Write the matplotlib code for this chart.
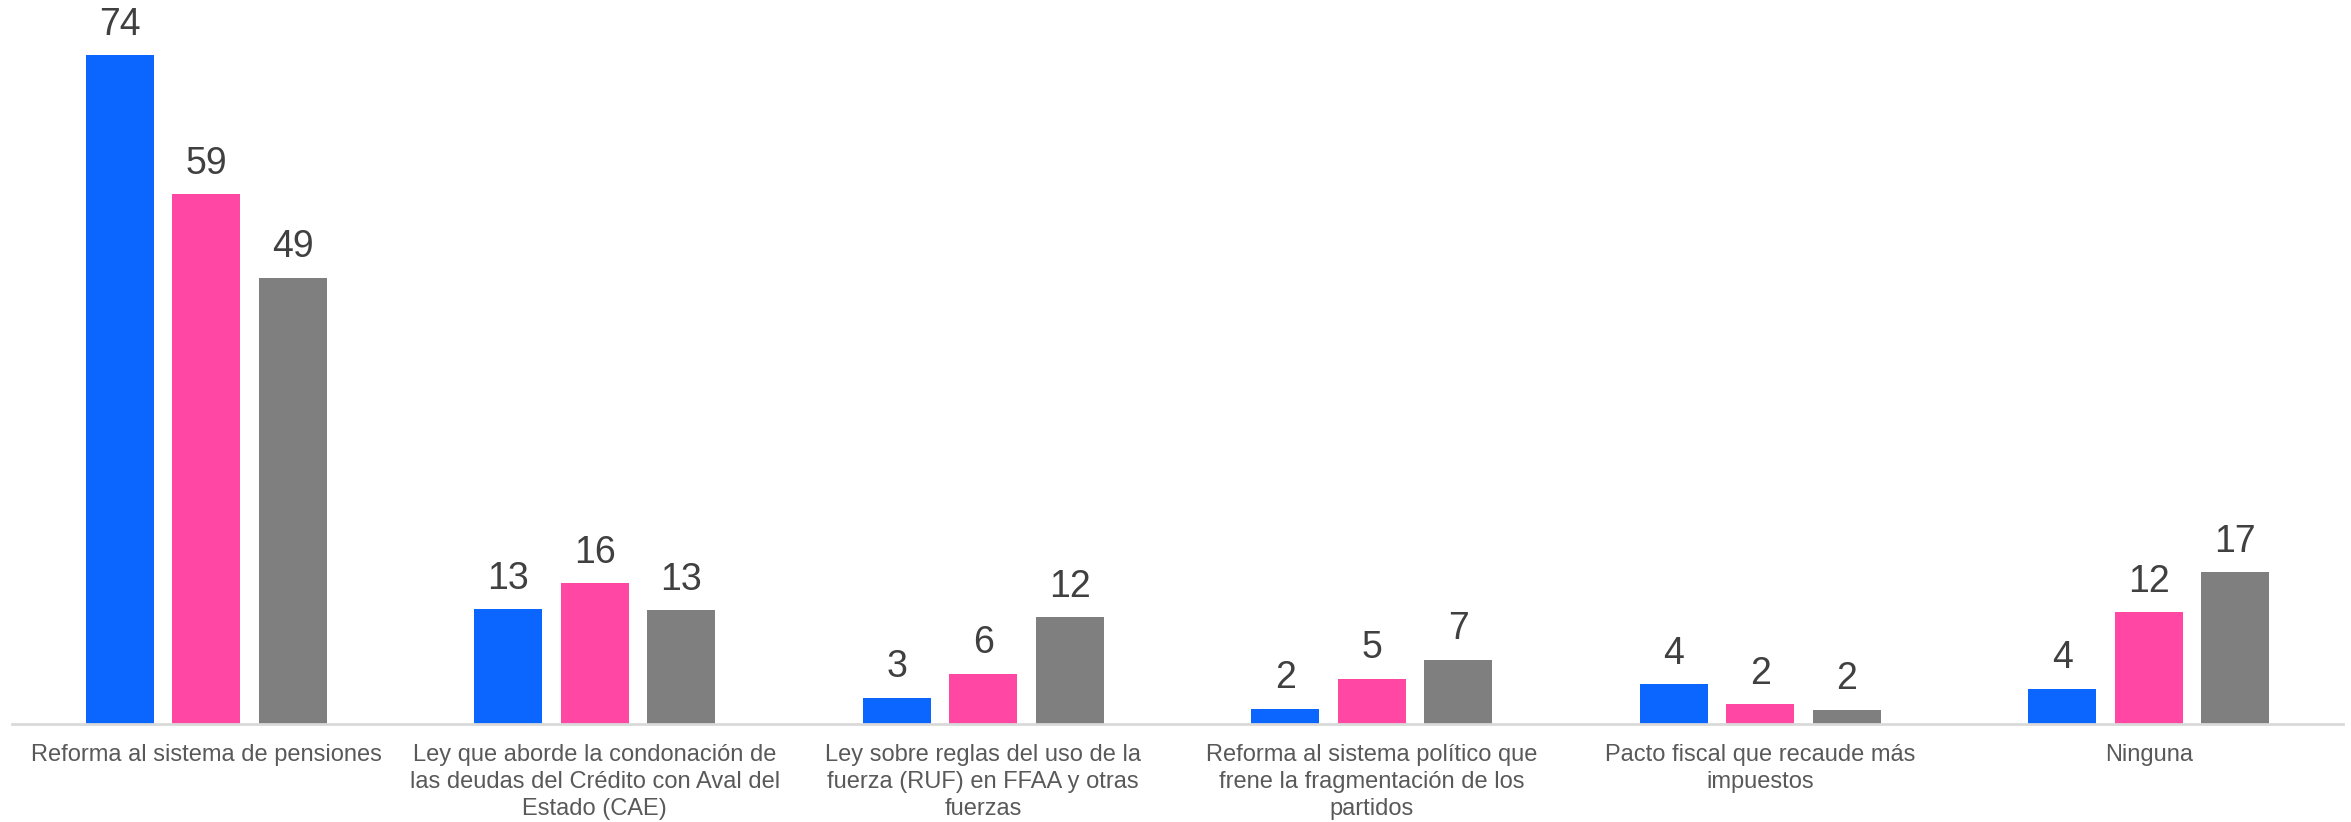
import matplotlib
matplotlib.use("Agg")
import matplotlib.pyplot as plt
import numpy as np

plt.rcParams['font.family'] = ['Liberation Sans', 'DejaVu Sans']

categories = [
    "Reforma al sistema de pensiones",
    "Ley que aborde la condonación de\nlas deudas del Crédito con Aval del\nEstado (CAE)",
    "Ley sobre reglas del uso de la\nfuerza (RUF) en FFAA y otras\nfuerzas",
    "Reforma al sistema político que\nfrene la fragmentación de los\npartidos",
    "Pacto fiscal que recaude más\nimpuestos",
    "Ninguna",
]
serie_azul = [74.0, 12.7, 2.9, 1.7, 4.4, 3.9]
serie_rosa = [58.6, 15.6, 5.6, 5.0, 2.2, 12.4]
serie_gris = [49.4, 12.6, 11.8, 7.1, 1.6, 16.8]

colors = ["#0A66FF", "#FF47A3", "#7F7F7F"]
series = [serie_azul, serie_rosa, serie_gris]

fig = plt.figure(figsize=(23.51, 8.22), dpi=100)
ax = fig.add_axes([12 / 2351, 0.119, 2331 / 2351, 0.88])

x = np.arange(len(categories))
offset = 0.223
width = 0.175
for i, (vals, c) in enumerate(zip(series, colors)):
    xs = x + (i - 1) * offset
    ax.bar(xs, vals, width=width, color=c, zorder=2)
    for xi, v in zip(xs, vals):
        ax.annotate(f"{v:.0f}", (xi, v), xytext=(0, 9), textcoords="offset points",
                    ha="center", va="bottom", fontsize=27, color="#404040")

ax.set_xlim(-0.5, len(categories) - 0.5)
ax.set_ylim(0, 80)
ax.set_xticks(x)
ax.set_xticklabels(categories, fontsize=17, color="#595959", linespacing=1.3)
ax.tick_params(axis="x", length=0, pad=14)
ax.set_yticks([])
for s in ["top", "right", "left"]:
    ax.spines[s].set_visible(False)
ax.spines["bottom"].set_color("#D9D9D9")
ax.spines["bottom"].set_linewidth(2)

fig.savefig("out.png", dpi=100)
